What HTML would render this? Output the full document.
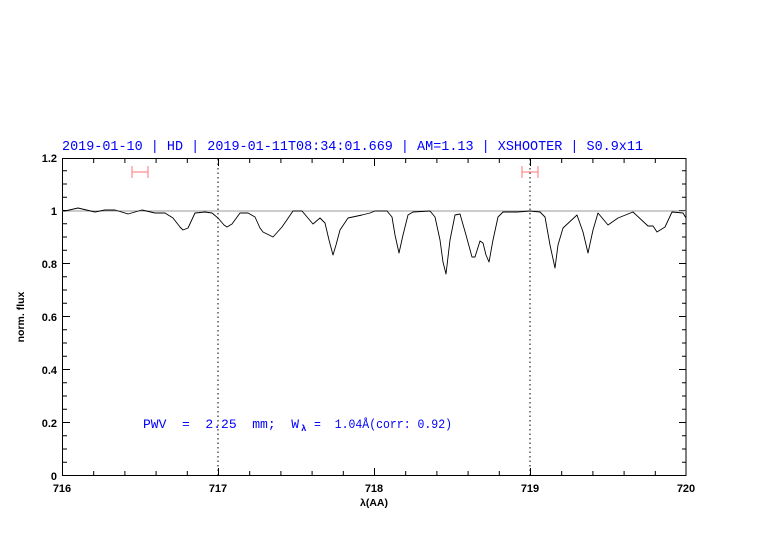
<!DOCTYPE html>
<html><head><style>body{margin:0;background:#fff}svg{display:block}</style></head><body>
<svg width="782" height="542" viewBox="0 0 782 542" xmlns="http://www.w3.org/2000/svg">
<rect width="782" height="542" fill="#fff"/>
<text x="62" y="150" font-family="Liberation Mono, monospace" font-size="13.5" fill="#0000ff" textLength="581" lengthAdjust="spacingAndGlyphs">2019-01-10 | HD | 2019-01-11T08:34:01.669 | AM=1.13 | XSHOOTER | S0.9x11</text>
<rect x="62.5" y="158.5" width="623.5" height="317" fill="none" stroke="#000" stroke-width="1"/>
<path fill="none" stroke="#000" stroke-width="1" d="
M62.5 475v-7M62.5 159v7
M93.7 475v-4M93.7 159v4
M124.9 475v-4M124.9 159v4
M156.1 475v-4M156.1 159v4
M187.3 475v-4M187.3 159v4
M218.5 475v-7M218.5 159v7
M249.7 475v-4M249.7 159v4
M280.9 475v-4M280.9 159v4
M312.1 475v-4M312.1 159v4
M343.3 475v-4M343.3 159v4
M374.5 475v-7M374.5 159v7
M405.7 475v-4M405.7 159v4
M436.9 475v-4M436.9 159v4
M468.1 475v-4M468.1 159v4
M499.3 475v-4M499.3 159v4
M530.5 475v-7M530.5 159v7
M561.7 475v-4M561.7 159v4
M592.9 475v-4M592.9 159v4
M624.1 475v-4M624.1 159v4
M655.3 475v-4M655.3 159v4
M63 462.25h4M686 462.25h-4
M63 449h4M686 449h-4
M63 435.75h4M686 435.75h-4
M63 422.5h7M686 422.5h-7
M63 409.25h4M686 409.25h-4
M63 396h4M686 396h-4
M63 382.75h4M686 382.75h-4
M63 369.5h7M686 369.5h-7
M63 356.25h4M686 356.25h-4
M63 343h4M686 343h-4
M63 329.75h4M686 329.75h-4
M63 316.5h7M686 316.5h-7
M63 303.25h4M686 303.25h-4
M63 290h4M686 290h-4
M63 276.75h4M686 276.75h-4
M63 263.5h7M686 263.5h-7
M63 250.25h4M686 250.25h-4
M63 237h4M686 237h-4
M63 223.75h4M686 223.75h-4
M63 210.5h7M686 210.5h-7
M63 197.25h4M686 197.25h-4
M63 184h4M686 184h-4
M63 170.75h4M686 170.75h-4"/>
<line x1="62.5" y1="211" x2="686" y2="211" stroke="#999" stroke-width="1"/>
<line x1="218" y1="159" x2="218" y2="475" stroke="#000" stroke-width="1" stroke-dasharray="1.5,3"/>
<line x1="530" y1="159" x2="530" y2="475" stroke="#000" stroke-width="1" stroke-dasharray="1.5,3"/>
<g stroke="#f77" stroke-width="1">
<line x1="132" y1="172" x2="148" y2="172"/><line x1="132" y1="166" x2="132" y2="178"/><line x1="148" y1="166" x2="148" y2="178"/>
<line x1="522" y1="172" x2="538" y2="172"/><line x1="522" y1="166" x2="522" y2="178"/><line x1="538" y1="166" x2="538" y2="178"/>
</g>
<polyline fill="none" stroke="#000" stroke-width="0.9" stroke-linejoin="round" points="63,211 65,211 78,208 95,212 105,210 115,210 128,214 142,210 155,213 165,213 173,218 180,227 183,230 188,228 195,213 205,212 212,213 218,218 224,225 227,227 232,224 240,213 248,213 255,217 260,228 263,232 273,237 282,227 293,211 302,211 313,224 320,218 325,223 329,240 333,255 336,245 340,230 348,218 362,215 370,213 375,211 387,211 392,217 395,235 399,253 403,235 408,215 413,212 430,211 435,217 440,240 443,262 446,274 450,240 455,215 460,214 466,235 472,257 475,257 480,241 483,243 486,255 489,262 493,240 498,217 503,212 517,212 530,211 540,212 545,217 550,245 555,268 558,245 563,228 577,215 583,232 588,253 593,230 598,213 608,225 618,218 633,212 648,226 653,226 657,232 665,227 672,212 683,213 686,218"/>
<g font-family="Liberation Sans, sans-serif" font-size="11" fill="#000" font-weight="bold">
<text x="57" y="480" text-anchor="end">0</text>
<text x="57" y="427" text-anchor="end">0.2</text>
<text x="57" y="374" text-anchor="end">0.4</text>
<text x="57" y="321" text-anchor="end">0.6</text>
<text x="57" y="268" text-anchor="end">0.8</text>
<text x="57" y="215" text-anchor="end">1</text>
<text x="57" y="162" text-anchor="end">1.2</text>
<text x="62" y="492" text-anchor="middle">716</text>
<text x="218" y="492" text-anchor="middle">717</text>
<text x="374" y="492" text-anchor="middle">718</text>
<text x="530" y="492" text-anchor="middle">719</text>
<text x="686" y="492" text-anchor="middle">720</text>
<text x="374" y="506" text-anchor="middle" font-size="10.5">λ(AA)</text>
<text transform="translate(24,317) rotate(-90)" text-anchor="middle" font-size="10.5">norm. flux</text>
</g>
<g font-family="Liberation Mono, monospace" font-size="13" fill="#0000ff" style="white-space:pre">
<text x="143" y="428" xml:space="preserve">PWV  =  2.25  mm;  W</text>
<text x="301" y="431" font-size="9" font-weight="bold">λ</text>
<text x="314" y="428" xml:space="preserve" textLength="138" lengthAdjust="spacingAndGlyphs">=  1.04Å(corr: 0.92)</text>
</g>
</svg>
</body></html>
